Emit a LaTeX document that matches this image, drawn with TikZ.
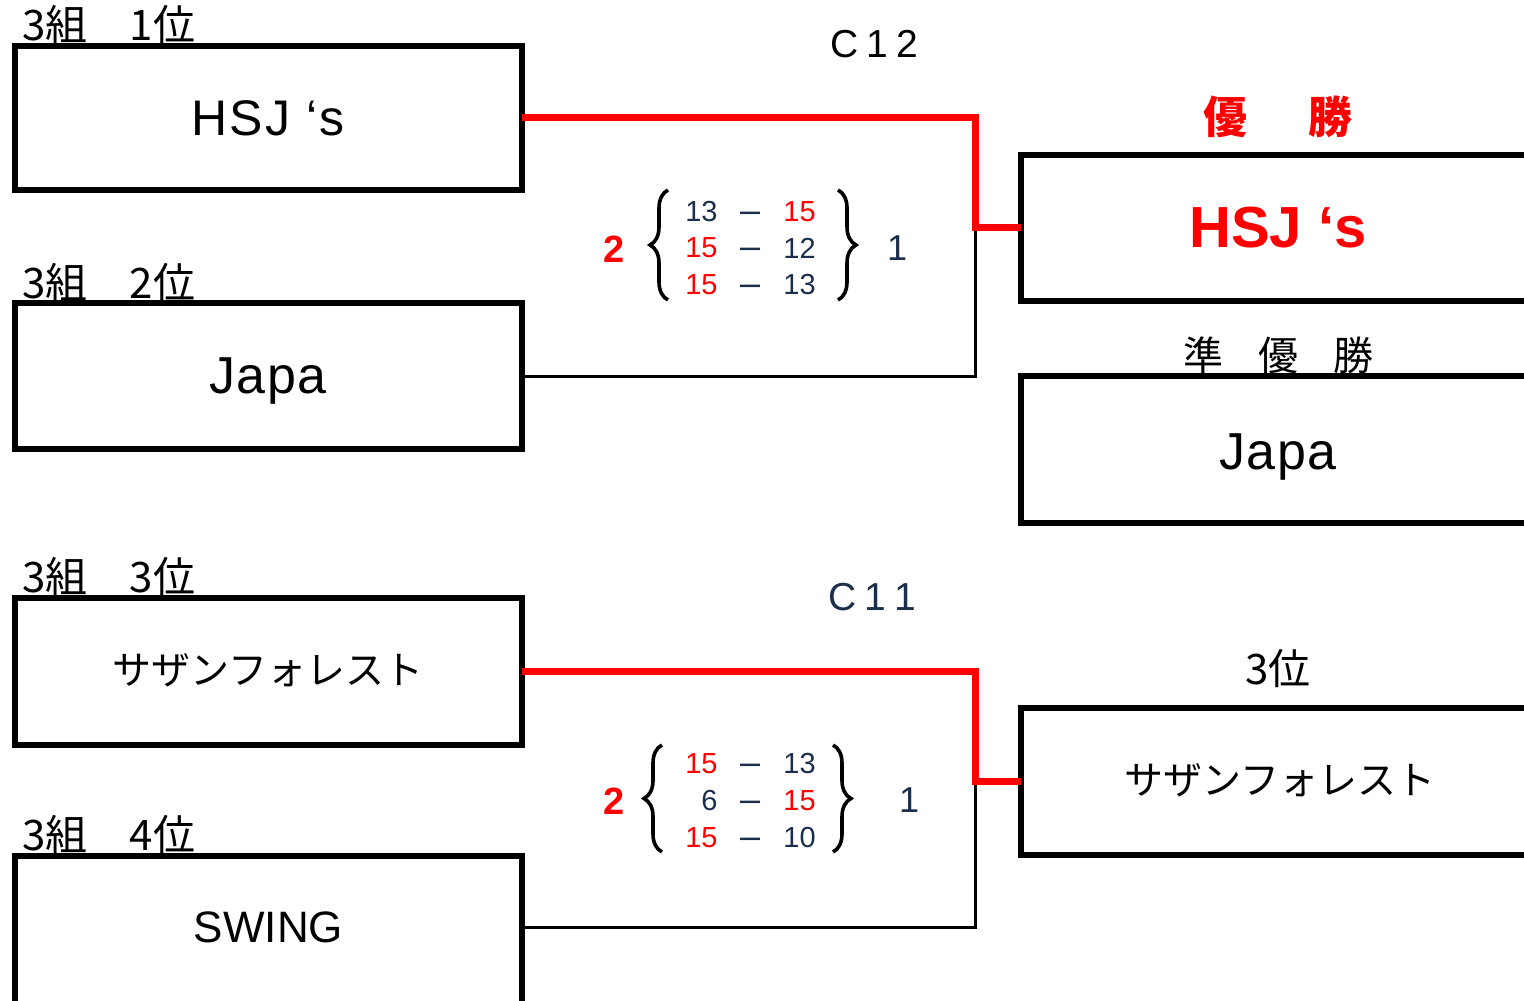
\documentclass[tikz,border=0pt]{standalone}
\usepackage{fontspec}
\setmainfont{Liberation Sans}
\newfontfamily\jp{Noto Sans CJK JP}
\usetikzlibrary{decorations.pathreplacing,calc}
\definecolor{navy}{HTML}{1B2E4B}
\definecolor{winred}{HTML}{FF0000}
\begin{document}
\begin{tikzpicture}[x=0.5pt,y=-0.5pt,
  box/.style={draw=black,line width=3pt,minimum width=253.5pt,inner sep=0pt,outer sep=0pt},
  rbox/.style={draw=black,line width=3pt,minimum width=257pt,inner sep=0pt,outer sep=0pt},
  teamname/.style={font=\fontsize{25}{30}\selectfont\addfontfeature{LetterSpace=4}},
  japa/.style={font=\fontsize{26}{30}\selectfont\addfontfeature{LetterSpace=3}},
  kata/.style={font=\jp\fontsize{19.5}{24}\selectfont},
  grp/.style={font=\jp\fontsize{21}{24}\selectfont,inner sep=0pt,anchor=west},
  winline/.style={draw=winred,line width=3.5pt},
  loseline/.style={draw=black,line width=1.5pt},
  brc/.style={draw=black,line width=1.8pt,decorate,decoration={brace,amplitude=9pt}},
  sc/.style={font=\fontsize{14.5}{16}\selectfont,inner sep=0pt},
  dsh/.style={font=\fontsize{18}{20}\selectfont,inner sep=0pt,text=navy,anchor=base},
  big/.style={font=\fontsize{18}{20}\selectfont,inner sep=0pt},
  title/.style={font=\fontsize{19.5}{22}\selectfont,inner sep=0pt}
]
\useasboundingbox (0,0) rectangle (1524,1000);

% left boxes
\node[box,minimum height=72pt] (L1) at (268.5,118) {};
\node[box,minimum height=73pt] (L2) at (268.5,376) {};
\node[box,minimum height=73.5pt] (L3) at (268.5,671.5) {};
\node[box,minimum height=102pt] (L4) at (268.5,958) {};
% right boxes
\node[rbox,minimum height=73pt] (R1) at (1278,228) {};
\node[rbox,minimum height=73.5pt] (R2) at (1278,449.5) {};
\node[rbox,minimum height=73.5pt] (R3) at (1278,781.5) {};

% team names
\node[teamname] (t1) at (268,118) {HSJ ‘s};
\node[japa] (t2) at (268,381) {Japa};
\node[kata] (t3) at (268,670) {サザンフォレスト};
\node[font=\fontsize{22}{26}\selectfont] (t4) at ($(L4.north)+(0,71)$) {SWING};
\node[font=\bfseries\fontsize{29}{32}\selectfont,text=winred] (r1) at (1278,228) {HSJ ‘s};
\node[japa] (r2) at (1278,457) {Japa};
\node[kata] (r3) at (1280,780) {サザンフォレスト};

% group labels
\node[grp] (g1) at (22,25) {3組　1位};
\node[grp] (g2) at (22,283) {3組　2位};
\node[grp] (g3) at (22,577) {3組　3位};
\node[grp] (g4) at (22,835) {3組　4位};

% result labels
\node[font=\jp\bfseries\fontsize{22}{24}\selectfont,text=winred,inner sep=0pt] (lw) at (1278,117) {優\hspace{30.5pt}勝};
\node[font=\jp\fontsize{20}{24}\selectfont,inner sep=0pt] (lr) at (1278,355) {準\hspace{17.5pt}優\hspace{17.5pt}勝};
\node[font=\jp\fontsize{21}{24}\selectfont,inner sep=0pt] (l3) at (1278,669) {3位};

% match titles
\node[title] (c12) at (874,44) {C\hspace{4pt}1\hspace{4pt}2};
\node[title,text=navy] (c11) at (872,597) {C\hspace{4pt}1\hspace{4pt}1};

% connectors
\coordinate (m1) at (975,228);
\coordinate (m2) at (975,781.5);
\coordinate (s4) at ($(L4.north east)+(0,71)$);
\draw[loseline] (L2.east) -| (m1);
\draw[winline] (L1.east) -| (m1) -- (R1.west);
\draw[loseline] (s4) -| (m2);
\draw[winline] (L3.east) -| (m2) -- (R3.west);

% scores C12
\node[big,font=\bfseries\fontsize{19}{20}\selectfont,text=winred] (w12) at (614,249) {2};
\draw[brc] (668,300) -- (668,190);
\draw[brc] (838,190) -- (838,300);
\node[big,text=navy] (p12) at (897,248) {1};
\node[sc,text=navy,anchor=east] (a1) at (718,212) {13};
\node[dsh] (d1) at (750,222) {–};
\node[sc,text=winred,anchor=west] (b1) at (783,212) {15};
\node[sc,text=winred,anchor=east] (a2) at (718,248) {15};
\node[dsh] (d2) at (750,258) {–};
\node[sc,text=navy,anchor=west] (b2) at (783,248) {12};
\node[sc,text=winred,anchor=east] (a3) at (718,285) {15};
\node[dsh] (d3) at (750,295) {–};
\node[sc,text=navy,anchor=west] (b3) at (783,285) {13};

% scores C11
\node[big,font=\bfseries\fontsize{19}{20}\selectfont,text=winred] (w11) at (614,801) {2};
\draw[brc] (662,852) -- (662,745);
\draw[brc] (833,745) -- (833,852);
\node[big,text=navy] (p11) at (909,800) {1};
\node[sc,text=winred,anchor=east] (e1) at (718,764) {15};
\node[dsh] (f1) at (750,774) {–};
\node[sc,text=navy,anchor=west] (h1) at (783,764) {13};
\node[sc,text=navy,anchor=east] (e2) at (718,801) {6};
\node[dsh] (f2) at (750,811) {–};
\node[sc,text=winred,anchor=west] (h2) at (783,801) {15};
\node[sc,text=winred,anchor=east] (e3) at (718,838) {15};
\node[dsh] (f3) at (750,848) {–};
\node[sc,text=navy,anchor=west] (h3) at (783,838) {10};
\end{tikzpicture}
\end{document}
